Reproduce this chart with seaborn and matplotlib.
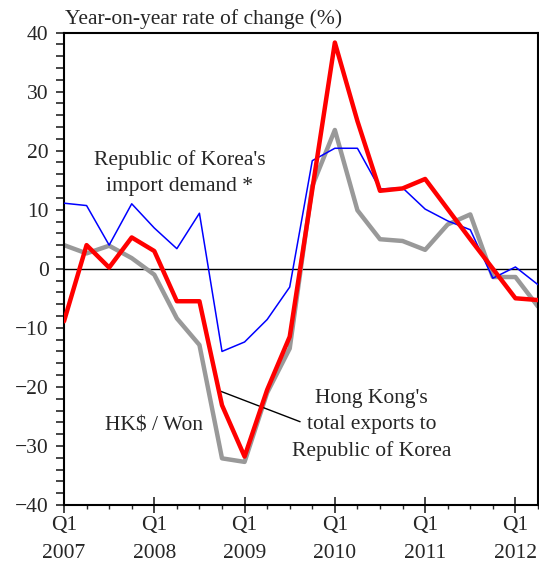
import numpy as np
import pandas as pd
import matplotlib
matplotlib.use("Agg")
import matplotlib.pyplot as plt
from matplotlib.ticker import MultipleLocator
import seaborn as sns

# quarterly data, Q1 2007 .. Q2 2012 (year-on-year % change)
quarters = ["2007Q1", "2007Q2", "2007Q3", "2007Q4",
            "2008Q1", "2008Q2", "2008Q3", "2008Q4",
            "2009Q1", "2009Q2", "2009Q3", "2009Q4",
            "2010Q1", "2010Q2", "2010Q3", "2010Q4",
            "2011Q1", "2011Q2", "2011Q3", "2011Q4",
            "2012Q1", "2012Q2"]
korea_import_demand = [11.1, 10.7, 4.0, 11.0, 6.9, 3.4, 9.4, -14.0, -12.4, -8.6, -3.1,
                       18.3, 20.4, 20.4, 13.5, 13.7, 10.1, 8.1, 6.6, -1.6, 0.3, -2.7]
hk_exports_korea = [-8.9, 4.0, 0.2, 5.3, 3.0, -5.5, -5.5, -23.1, -31.8, -20.5, -11.5,
                    13.4, 38.3, 25.0, 13.2, 13.6, 15.2, 10.1, 5.0, 0.0, -5.0, -5.3]
hkd_won = [4.0, 2.6, 3.9, 1.8, -1.0, -8.4, -12.9, -32.1, -32.7, -21.0, -13.5,
           14.0, 23.5, 9.9, 5.0, 4.7, 3.2, 7.5, 9.2, -1.4, -1.4, -6.4]
year_labels = ["Q1\n2007", "Q1\n2008", "Q1\n2009", "Q1\n2010", "Q1\n2011", "Q1\n2012"]

df = pd.DataFrame({
    "q": np.arange(len(quarters)),
    "demand": korea_import_demand,
    "exports": hk_exports_korea,
    "fx": hkd_won,
})

sns.set_style("ticks")
plt.rcParams["font.family"] = ["Liberation Serif", "DejaVu Serif"]
plt.rcParams["font.size"] = 15.5

fig = plt.figure(figsize=(5.39, 5.73), dpi=100)
ax = fig.add_axes([64 / 539, 1 - 505 / 573, 474 / 539, 472.5 / 573])

ax.axhline(0, color="black", lw=1, zorder=1)
sns.lineplot(data=df, x="q", y="fx", color="#999999", lw=3.2, ax=ax, zorder=2)
sns.lineplot(data=df, x="q", y="demand", color="#0000ff", lw=1.1, ax=ax, zorder=3)
sns.lineplot(data=df, x="q", y="exports", color="#ff0000", lw=3.2, ax=ax, zorder=4)

ax.set_xlim(0, len(quarters) - 1)
ax.set_ylim(-40, 40)
ax.set_xlabel("")
ax.set_ylabel("")

ax.yaxis.set_major_locator(MultipleLocator(10))
ax.yaxis.set_minor_locator(MultipleLocator(2))
ax.set_xticks(np.arange(0, len(quarters), 4))
ax.set_xticklabels(year_labels, linespacing=1.65)
ax.xaxis.set_minor_locator(MultipleLocator(1))

ax.tick_params(axis="y", which="both", direction="out", length=6, width=1.2, labelsize=15.5, pad=5)
ax.tick_params(axis="x", which="major", direction="inout", length=12, width=1.2, labelsize=15.5, pad=2)
ax.tick_params(axis="x", which="minor", direction="out", length=3, width=1.0)

for spine in ax.spines.values():
    spine.set_visible(True)
    spine.set_color("black")
    spine.set_linewidth(1.5)

ax.text(0.002, 1.008, "Year-on-year rate of change (%)", transform=ax.transAxes,
        ha="left", va="bottom")

ax.text(5.12, 16.2, "Republic of Korea's\nimport demand *", ha="center", va="center",
        linespacing=1.5)
ax.text(3.97, -26.7, "HK$ / Won", ha="center", va="center")
ax.text(13.63, -26.5, "Hong Kong's\ntotal exports to\nRepublic of Korea", ha="center",
        va="center", linespacing=1.5)
# leader line from the label to the exports curve
ax.annotate("", xy=(6.91, -20.7), xytext=(10.46, -25.9),
            arrowprops=dict(arrowstyle="-", color="black", lw=1, shrinkA=0, shrinkB=0))

fig.savefig("out.png", dpi=100)
